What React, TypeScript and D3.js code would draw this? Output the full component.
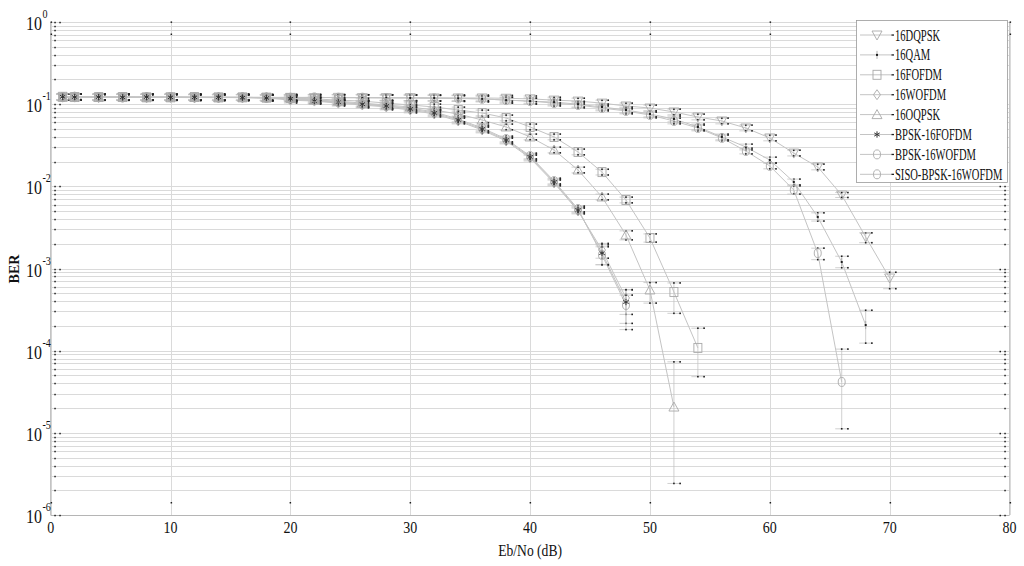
import React from 'react';
import * as d3 from 'd3';

const W = 1024;
const H = 566;
const X0 = 50.7;
const X1 = 1009.5;
const Y0 = 22;
const Y1 = 515;

// Eb/No grid (dB)
const snr = [1, 2, 4, 6, 8, 10, 12, 14, 16, 18, 20, 22, 24, 26, 28, 30, 32, 34, 36, 38, 40, 42, 44, 46, 48, 50, 52, 54, 56, 58, 60, 62, 64, 66, 68, 70];

// BER values
const ber16DQPSK = [0.122, 0.122, 0.121, 0.122, 0.121, 0.122, 0.121, 0.121, 0.121, 0.121, 0.121, 0.120, 0.121, 0.120, 0.120, 0.120, 0.119, 0.119, 0.119, 0.118, 0.116, 0.112, 0.109, 0.103, 0.095, 0.0898, 0.0803, 0.0698, 0.0624, 0.0513, 0.0388, 0.0254, 0.0172, 0.00784, 0.00242, 0.000766];
const ber16QAM = [0.123, 0.122, 0.122, 0.121, 0.122, 0.121, 0.121, 0.122, 0.121, 0.120, 0.121, 0.121, 0.120, 0.120, 0.120, 0.119, 0.119, 0.118, 0.116, 0.112, 0.109, 0.106, 0.100, 0.0924, 0.0849, 0.0759, 0.066, 0.0528, 0.0399, 0.0301, 0.0209, 0.0113, 0.00424, 0.0012, 0.000205];
const ber16FOFDM = [0.123, 0.122, 0.122, 0.122, 0.121, 0.121, 0.122, 0.121, 0.121, 0.120, 0.119, 0.116, 0.112, 0.109, 0.103, 0.0977, 0.0924, 0.0849, 0.0781, 0.0679, 0.0528, 0.0399, 0.0262, 0.0149, 0.00682, 0.00235, 0.000518, 0.000108];
const ber16WOFDM = [0.122, 0.122, 0.121, 0.122, 0.121, 0.121, 0.120, 0.121, 0.120, 0.119, 0.112, 0.109, 0.103, 0.0977, 0.0924, 0.0849, 0.0759, 0.0624, 0.0485, 0.0356, 0.0221, 0.011, 0.00501, 0.00168, 0.000438];
const ber16OQPSK = [0.122, 0.122, 0.121, 0.122, 0.121, 0.121, 0.121, 0.120, 0.121, 0.120, 0.119, 0.112, 0.109, 0.103, 0.0977, 0.0924, 0.0849, 0.0759, 0.0642, 0.0528, 0.0399, 0.0277, 0.0158, 0.00742, 0.00256, 0.000548, 0.0000206];
const berBPSK16FOFDM = [0.123, 0.122, 0.122, 0.121, 0.122, 0.121, 0.121, 0.121, 0.120, 0.119, 0.116, 0.109, 0.106, 0.100, 0.095, 0.0873, 0.0781, 0.0642, 0.0498, 0.0366, 0.0228, 0.0113, 0.00515, 0.00154, 0.000391];
const berBPSK16WOFDM = [0.122, 0.123, 0.122, 0.121, 0.121, 0.122, 0.121, 0.120, 0.121, 0.119, 0.116, 0.112, 0.106, 0.100, 0.095, 0.0898, 0.0803, 0.066, 0.0513, 0.0377, 0.0234, 0.0116, 0.0053, 0.00146, 0.00036];
const berSISO = [0.122, 0.123, 0.122, 0.121, 0.122, 0.122, 0.121, 0.121, 0.121, 0.121, 0.120, 0.121, 0.120, 0.120, 0.119, 0.119, 0.118, 0.117, 0.116, 0.112, 0.109, 0.103, 0.0977, 0.0898, 0.0826, 0.0738, 0.0624, 0.0513, 0.0388, 0.0269, 0.0177, 0.00903, 0.00154, 0.0000416];

// error bar half widths (decades) for the last points of each curve
const DEFAULT_ERR = 0.035;
const up16DQPSK = [0.03, 0.05, 0.07];
const dn16DQPSK = [0.03, 0.07, 0.13];
const up16QAM = [0.05, 0.07, 0.18];
const dn16QAM = [0.05, 0.07, 0.22];
const up16FOFDM = [0.05, 0.11, 0.24];
const dn16FOFDM = [0.05, 0.26, 0.35];
const up16WOFDM = [0.08, 0.1];
const dn16WOFDM = [0.1, 0.2];
const up16OQPSK = [0.05, 0.09, 0.55];
const dn16OQPSK = [0.06, 0.16, 0.93];
const upBPSK16FOFDM = [0.1, 0.15];
const dnBPSK16FOFDM = [0.14, 0.26];
const upBPSK16WOFDM = [0.1, 0.12];
const dnBPSK16WOFDM = [0.12, 0.3];
const upSISO = [0.05, 0.06, 0.4];
const dnSISO = [0.05, 0.08, 0.57];

const seriesNames = ['16DQPSK', '16QAM', '16FOFDM', '16WOFDM', '16OQPSK', 'BPSK-16FOFDM', 'BPSK-16WOFDM', 'SISO-BPSK-16WOFDM'];

const series = [
  { name: seriesNames[0], ber: ber16DQPSK, up: up16DQPSK, dn: dn16DQPSK, marker: 'tdown' },
  { name: seriesNames[1], ber: ber16QAM, up: up16QAM, dn: dn16QAM, marker: 'point' },
  { name: seriesNames[2], ber: ber16FOFDM, up: up16FOFDM, dn: dn16FOFDM, marker: 'square' },
  { name: seriesNames[3], ber: ber16WOFDM, up: up16WOFDM, dn: dn16WOFDM, marker: 'diamond' },
  { name: seriesNames[4], ber: ber16OQPSK, up: up16OQPSK, dn: dn16OQPSK, marker: 'tup' },
  { name: seriesNames[5], ber: berBPSK16FOFDM, up: upBPSK16FOFDM, dn: dnBPSK16FOFDM, marker: 'star' },
  { name: seriesNames[6], ber: berBPSK16WOFDM, up: upBPSK16WOFDM, dn: dnBPSK16WOFDM, marker: 'circle' },
  { name: seriesNames[7], ber: berSISO, up: upSISO, dn: dnSISO, marker: 'circle' },
];

const FONT = "'Liberation Serif', 'Times New Roman', serif";
const LINE = '#c4c4c4';
const MARK = '#a9a9a9';
const DOT = '#1e1e1e';
const GRID = '#dadada';

const x = d3.scaleLinear().domain([0, 80]).range([X0, X1]);
const y = d3.scaleLog().domain([1e-6, 1]).range([Y1, Y0]);

const starPath = d3.symbol().type(d3.symbolAsterisk).size(28)() as string;

function Marker({ kind, cx, cy }: { kind: string; cx: number; cy: number }) {
  if (kind === 'tdown') {
    return <path d={`M${cx - 5},${cy - 4}L${cx + 5},${cy - 4}L${cx},${cy + 5}Z`} fill="none" stroke={MARK} strokeWidth={0.9} />;
  }
  if (kind === 'tup') {
    return <path d={`M${cx - 5},${cy + 4}L${cx + 5},${cy + 4}L${cx},${cy - 5}Z`} fill="none" stroke={MARK} strokeWidth={0.9} />;
  }
  if (kind === 'square') {
    return <rect x={cx - 4} y={cy - 4.5} width={8} height={9} fill="none" stroke={MARK} strokeWidth={0.9} />;
  }
  if (kind === 'diamond') {
    return <path d={`M${cx},${cy - 5}L${cx + 3.5},${cy}L${cx},${cy + 5}L${cx - 3.5},${cy}Z`} fill="none" stroke={MARK} strokeWidth={0.9} />;
  }
  if (kind === 'circle') {
    return <ellipse cx={cx} cy={cy} rx={3.5} ry={4.5} fill="none" stroke={MARK} strokeWidth={0.9} />;
  }
  if (kind === 'star') {
    return <path d={starPath} transform={`translate(${cx},${cy})`} fill="none" stroke="#333" strokeWidth={1} />;
  }
  // point marker with a short tick
  return (
    <g>
      <line x1={cx} x2={cx} y1={cy - 4} y2={cy + 4} stroke={MARK} strokeWidth={0.9} />
      <rect x={cx - 1} y={cy - 1} width={2} height={2} fill={DOT} />
    </g>
  );
}

function CText({ x: tx, y: ty, size, sx, anchor = 'start', bold = false, children }: any) {
  return (
    <text transform={`translate(${tx},${ty}) scale(${sx},1)`} fontSize={size} fontFamily={FONT}
      textAnchor={anchor} fontWeight={bold ? 'bold' : 'normal'} fill="#111">{children}</text>
  );
}

export default function App() {
  const line = d3.line<[number, number]>().x((d) => x(d[0])).y((d) => y(d[1]));
  const yTicks = y.ticks();
  const xTicks = d3.range(0, 81, 10);
  const isMajor = (t: number) => Math.abs(Math.log10(t) - Math.round(Math.log10(t))) < 1e-6;

  const legendRows = seriesNames.map((n, i) => 35 + i * 19.9);

  return (
    <svg width={W} height={H} style={{ display: 'block', position: 'absolute', left: 0, top: 0, background: '#fff' }}>
      <rect x={0} y={0} width={W} height={H} fill="#fff" />
      {/* grid */}
      {yTicks.map((t, i) => (
        <line key={`gy${i}`} x1={X0} x2={X1} y1={Math.round(y(t)) + 0.5} y2={Math.round(y(t)) + 0.5} stroke={GRID} strokeWidth={1} />
      ))}
      {xTicks.map((t) => (
        <line key={`gx${t}`} x1={Math.round(x(t)) + 0.5} x2={Math.round(x(t)) + 0.5} y1={Y0} y2={Y1} stroke={GRID} strokeWidth={1} />
      ))}
      {/* frame */}
      <line x1={X0} x2={X0} y1={Y0} y2={Y1} stroke="#b5b5b5" />
      <line x1={X1} x2={X1} y1={Y0} y2={Y1} stroke="#c8c8c8" />
      <line x1={X0} x2={X1} y1={Y1 + 0.5} y2={Y1 + 0.5} stroke="#b5b5b5" />
      {/* dotted ticks */}
      {yTicks.map((t, i) => {
        const ty = Math.round(y(t));
        return (
          <g key={`ty${i}`} fill={DOT}>
            <rect x={X0 + 3.6} y={ty - 0.2} width={1.5} height={1.5} />
            <rect x={X1 - 5.2} y={ty - 0.2} width={1.5} height={1.5} />
            {isMajor(t) && <rect x={X0 + 8.6} y={ty - 0.2} width={1.5} height={1.5} />}
            {isMajor(t) && <rect x={X1 - 10} y={ty - 0.2} width={1.5} height={1.5} />}
          </g>
        );
      })}
      {xTicks.map((t) => {
        const tx = Math.round(x(t));
        return (
          <g key={`tx${t}`} fill={DOT}>
            <rect x={tx - 0.4} y={Y0 - 0.6} width={1.5} height={1.5} />
            <rect x={tx - 0.4} y={Y0 + 11.5} width={1.5} height={1.5} />
            <rect x={tx - 0.4} y={Y1 - 13} width={1.5} height={1.5} />
          </g>
        );
      })}

      {/* curves */}
      {series.map((s) => (
        <path key={`l${s.name}`} d={line(s.ber.map((b, i) => [snr[i], b]))!} fill="none" stroke={LINE} strokeWidth={1} />
      ))}
      {/* error bars */}
      {series.map((s) => (
        <g key={`e${s.name}`}>
          {s.ber.map((b, i) => {
            const k = i - (s.ber.length - s.up.length);
            const eu = k >= 0 ? s.up[k] : DEFAULT_ERR;
            const ed = k >= 0 ? s.dn[k] : DEFAULT_ERR;
            const cx = x(snr[i]);
            const yHi = y(b * Math.pow(10, eu));
            const yLo = y(b / Math.pow(10, ed));
            return (
              <g key={i}>
                <line x1={cx} x2={cx} y1={yHi} y2={yLo} stroke={LINE} strokeWidth={0.8} />
                <line x1={cx - 6.5} x2={cx + 6.5} y1={yHi} y2={yHi} stroke={LINE} strokeWidth={0.8} />
                <line x1={cx - 6.5} x2={cx + 6.5} y1={yLo} y2={yLo} stroke={LINE} strokeWidth={0.8} />
                <rect x={cx - 0.8} y={yHi - 0.8} width={1.6} height={1.6} fill={DOT} />
                <rect x={cx + 5.4} y={yHi - 0.8} width={1.6} height={1.6} fill={DOT} />
                <rect x={cx - 0.8} y={yLo - 0.8} width={1.6} height={1.6} fill={DOT} />
                <rect x={cx + 5.4} y={yLo - 0.8} width={1.6} height={1.6} fill={DOT} />
              </g>
            );
          })}
        </g>
      ))}
      {/* markers */}
      {series.map((s) => (
        <g key={`m${s.name}`}>
          {s.ber.map((b, i) => <Marker key={i} kind={s.marker} cx={x(snr[i])} cy={y(b)} />)}
        </g>
      ))}

      {/* y tick labels */}
      {yTicks.filter(isMajor).map((t) => {
        const ty = y(t);
        const e = Math.round(Math.log10(t));
        return (
          <g key={`yl${e}`}>
            <CText x={42} y={ty + 8} size={19} sx={0.84} anchor="end">10</CText>
            <CText x={42.5} y={ty - 4} size={12} sx={0.84}>{String(e).replace('-', '-')}</CText>
          </g>
        );
      })}
      {/* x tick labels */}
      {xTicks.map((t) => (
        <CText key={`xl${t}`} x={x(t)} y={533} size={17.5} sx={0.8} anchor="middle">{t}</CText>
      ))}
      <CText x={(X0 + X1) / 2} y={556} size={16} sx={0.85} anchor="middle">Eb/No (dB)</CText>
      <g transform={`translate(19,269) rotate(-90)`}>
        <text fontSize={14} fontFamily={FONT} fontWeight="bold" textAnchor="middle" fill="#111">BER</text>
      </g>

      {/* legend */}
      <rect x={856.5} y={20.5} width={151} height={162} fill="#fff" stroke="#9a9a9a" strokeWidth={0.8} />
      {series.map((s, i) => {
        const ly = legendRows[i];
        return (
          <g key={`lg${s.name}`}>
            <line x1={860} x2={892} y1={ly} y2={ly} stroke={LINE} strokeWidth={1} />
            <Marker kind={s.marker} cx={877} cy={ly} />
            <rect x={891.5} y={ly - 0.6} width={2.5} height={1.3} fill={DOT} />
            <CText x={895} y={ly + 5.5} size={16} sx={0.66}>{s.name}</CText>
          </g>
        );
      })}
    </svg>
  );
}
